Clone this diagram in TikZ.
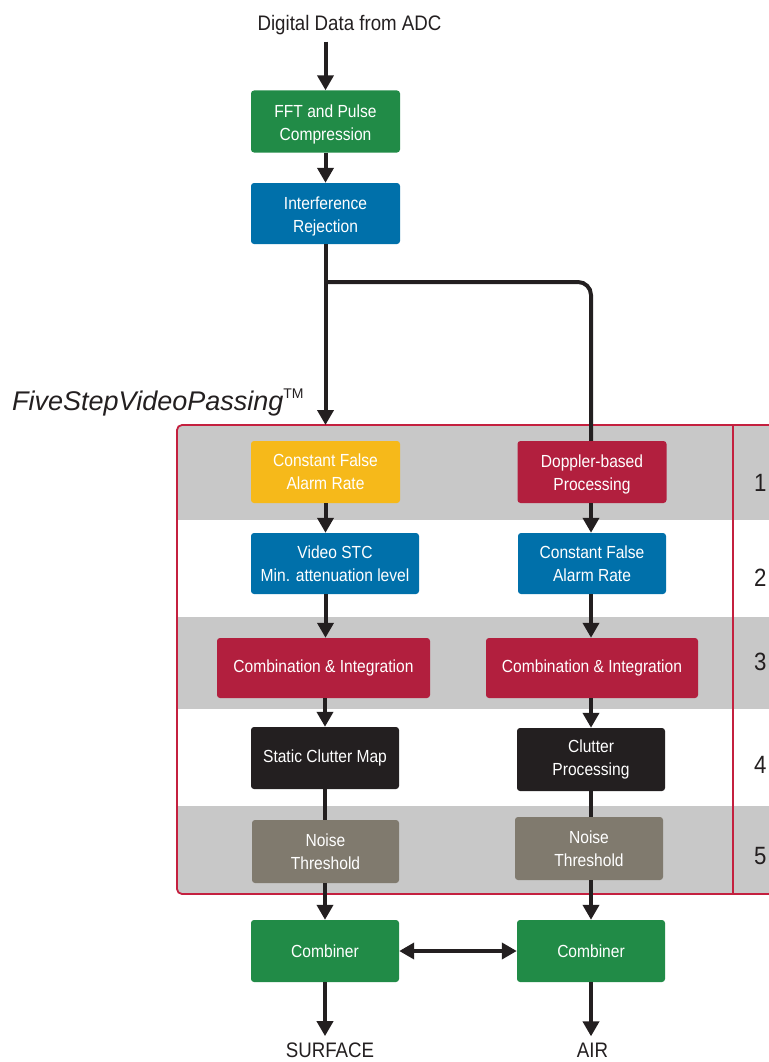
\documentclass[tikz,border=0pt]{standalone}
\usepackage{fontspec}
\setmainfont[FakeStretch=0.89]{Liberation Sans}
\newfontfamily\widefont{Liberation Sans}
\usetikzlibrary{arrows.meta}

\definecolor{ink}{HTML}{231F20}
\definecolor{stepgreen}{HTML}{218B47}
\definecolor{stepblue}{HTML}{0070AA}
\definecolor{stepyellow}{HTML}{F6B91A}
\definecolor{stepred}{HTML}{B21F3E}
\definecolor{stepgrey}{HTML}{807A6E}
\definecolor{bandgrey}{HTML}{C8C8C8}
\definecolor{framered}{HTML}{C4203F}

\begin{document}
\begin{tikzpicture}[x=1pt, y=-1pt,
    box/.style={rectangle, rounded corners=3pt, inner sep=0pt, minimum width=149pt,
      minimum height=62pt, text=white, align=center, font=\fontsize{17.5}{23}\selectfont},
    tag/.style={inner sep=6pt, text=ink, font=\fontsize{21}{25}\selectfont},
    wire/.style={draw=ink, line width=4pt},
    flow/.style={wire, -{Triangle[length=15pt, width=16pt]}},
    both/.style={wire, {Triangle[length=15pt, width=16pt]}-{Triangle[length=15pt, width=16pt]}}]
  \useasboundingbox (0, 0) rectangle (768, 1062);

  % Frame with the five steps
  \coordinate (ftl) at (177, 425);
  \coordinate (fbr) at (820, 894);
  \begin{scope}
    \clip [rounded corners=5pt] (ftl) rectangle (fbr);
    \fill [bandgrey] (177, 425) rectangle (820, 520);
    \fill [bandgrey] (177, 617) rectangle (820, 709);
    \fill [bandgrey] (177, 806) rectangle (820, 894);
  \end{scope}
  \draw [framered, line width=1.8pt, rounded corners=5pt] (ftl) rectangle (fbr);
  \draw [framered, line width=1.8pt] (733, 425) -- (733, 894);

  % Step numbers
  \foreach \n/\y in {1/483, 2/578, 3/662, 4/765, 5/856}
    \node [anchor=west, inner sep=0pt, text=ink, font=\fontsize{25}{25}\selectfont] (num\n) at (754, \y) {\n};

  \node [anchor=base west, inner sep=0pt, text=ink, font=\widefont\itshape\fontsize{27}{30}\selectfont] (fsvp) at (12, 410)
    {FiveStepVideoPassing\raisebox{12pt}{\upshape\fontsize{14}{14}\selectfont TM}};

  % Input
  \node [tag, anchor=base] (adc) at (349.5, 31) {Digital Data from ADC};
  \node [box, fill=stepgreen] (fft) at (325.5, 121.5) {\rule{0pt}{19pt}FFT and Pulse\\Compression};
  \node [box, fill=stepblue, minimum height=61pt] (intf) at (325.5, 213.5) {\rule{0pt}{19pt}Interference\\Rejection};

  % Surface chain
  \node [box, fill=stepyellow] (cfarL) at (325.5, 472) {Constant False\\Alarm Rate};
  \node [box, fill=stepblue, minimum width=168pt, minimum height=61pt] (videoL) at (335, 563.5) {Video STC\\Min. attenuation level};
  \node [box, fill=stepred, minimum width=213pt, minimum height=60pt] (combL) at (323.5, 668) {Combination \& Integration};
  \node [box, fill=ink, minimum width=148pt] (staticL) at (325, 758) {Static Clutter Map};
  \node [box, fill=stepgrey, minimum width=147pt, minimum height=63pt] (noiseL) at (325.5, 851.5) {Noise\\Threshold};
  \node [box, fill=stepgreen, minimum width=148pt] (combinerL) at (325, 951) {Combiner};
  \node [tag, anchor=base] (surface) at (330, 1057) {SURFACE};

  % Air chain
  \node [box, fill=stepred] (doppler) at (592, 472) {\rule{0pt}{17pt}Doppler-based\\Processing};
  \node [box, fill=stepblue, minimum width=148pt, minimum height=61pt] (cfarR) at (592, 563.5) {Constant False\\Alarm Rate};
  \node [box, fill=stepred, minimum width=212pt, minimum height=60pt] (combR) at (592, 668) {Combination \& Integration};
  \node [box, fill=ink, minimum width=148pt, minimum height=63pt] (clutterR) at (591, 759.5) {Clutter\\Processing};
  \node [box, fill=stepgrey, minimum width=148pt, minimum height=63pt] (noiseR) at (589, 848.5) {Noise\\Threshold};
  \node [box, fill=stepgreen, minimum width=148pt] (combinerR) at (591, 951) {Combiner};
  \node [tag, anchor=base] (air) at (592.5, 1057) {AIR};

  % Connections
  \draw [flow] (adc.south -| fft) -- (fft);
  \draw [flow] (fft) -- (intf);
  \draw [flow] (intf) -- (intf |- ftl);
  \coordinate (split) at (325.5, 282);
  \draw [wire, rounded corners=13pt] (split) -- (split -| combinerR) -- (doppler.north -| combinerR);

  \draw [flow] (cfarL) -- (cfarL |- videoL.north);
  \draw [flow] (cfarL |- videoL.south) -- (cfarL |- combL.north);
  \draw [flow] (staticL |- combL.south) -- (staticL);
  \draw [wire] (staticL) -- (staticL |- noiseL.north);
  \draw [flow] (combinerL |- noiseL.south) -- (combinerL);
  \draw [flow] (combinerL) -- (combinerL |- surface.north);

  \draw [flow] (combinerR |- doppler.south) -- (combinerR |- cfarR.north);
  \draw [flow] (combinerR |- cfarR.south) -- (combinerR |- combR.north);
  \draw [flow] (combinerR |- combR.south) -- (clutterR);
  \draw [wire] (clutterR) -- (clutterR |- noiseR.north);
  \draw [flow] (combinerR |- noiseR.south) -- (combinerR);
  \draw [flow] (combinerR) -- (combinerR |- air.north);

  \draw [both] (combinerL) -- (combinerR);
\end{tikzpicture}
\end{document}
